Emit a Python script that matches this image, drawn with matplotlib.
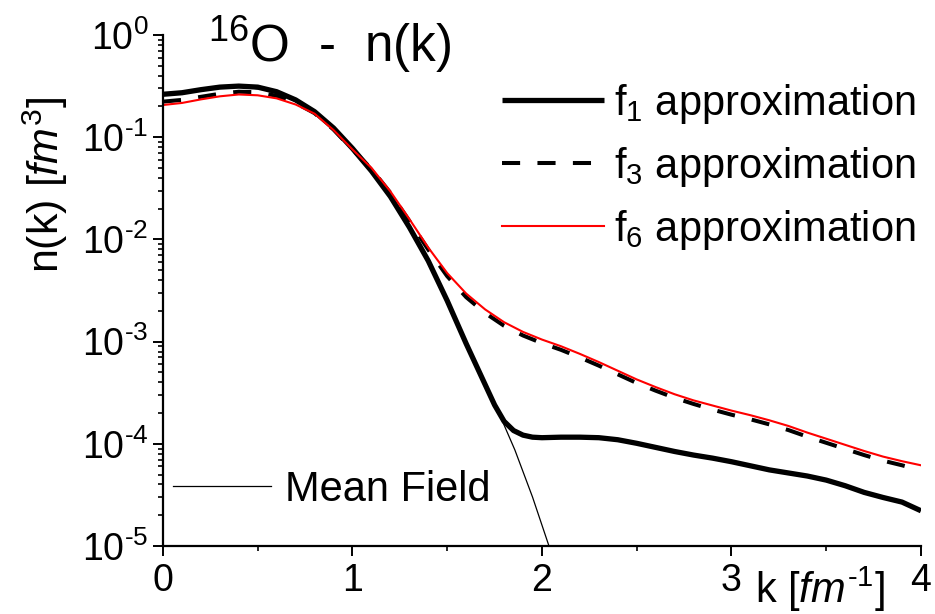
import matplotlib
matplotlib.use('Agg')
from matplotlib import pyplot as plt
from matplotlib.lines import Line2D
from matplotlib.ticker import LogLocator, MultipleLocator, FuncFormatter
import numpy as np

plt.rcParams['font.family'] = ['Liberation Sans', 'DejaVu Sans']
plt.rcParams['mathtext.fontset'] = 'custom'
plt.rcParams['mathtext.rm'] = 'Liberation Sans'
plt.rcParams['mathtext.it'] = 'Liberation Sans:italic'
plt.rcParams['axes.unicode_minus'] = False

# momentum k [fm^-1] and log10 n(k)
k_f1 = [0, 0.1, 0.2, 0.3, 0.4, 0.5, 0.6, 0.7, 0.8, 0.9, 1.0, 1.1, 1.2, 1.3, 1.4, 1.5,
        1.6, 1.7, 1.75, 1.8, 1.85, 1.9, 1.95, 2.0, 2.1, 2.2, 2.3, 2.4, 2.5, 2.6, 2.7,
        2.8, 2.9, 3.0, 3.1, 3.2, 3.3, 3.4, 3.5, 3.6, 3.7, 3.8, 3.9, 4.0]
log_f1 = [-0.58, -0.565, -0.535, -0.51, -0.50, -0.51, -0.555, -0.635, -0.75, -0.91,
          -1.11, -1.33, -1.58, -1.88, -2.21, -2.60, -3.02, -3.42, -3.62, -3.78,
          -3.87, -3.915, -3.935, -3.94, -3.935, -3.935, -3.94, -3.96, -3.995, -4.035,
          -4.075, -4.11, -4.14, -4.175, -4.215, -4.255, -4.285, -4.315, -4.355, -4.41,
          -4.475, -4.525, -4.57, -4.655]

k_f = [0, 0.1, 0.2, 0.3, 0.4, 0.5, 0.6, 0.7, 0.8, 0.9, 1.0, 1.1, 1.2, 1.3, 1.4, 1.5,
       1.6, 1.7, 1.8, 1.9, 2.0, 2.1, 2.2, 2.3, 2.4, 2.5, 2.6, 2.7, 2.8, 2.9, 3.0,
       3.1, 3.2, 3.3, 3.4, 3.5, 3.6, 3.7, 3.8, 3.9, 4.0]
log_f3 = [-0.652, -0.635, -0.605, -0.575, -0.555, -0.56, -0.595, -0.665, -0.765, -0.925,
          -1.12, -1.31, -1.545, -1.82, -2.10, -2.36, -2.565, -2.72, -2.845, -2.94,
          -3.015, -3.08, -3.155, -3.235, -3.32, -3.405, -3.48, -3.55, -3.61, -3.665,
          -3.715, -3.76, -3.81, -3.865, -3.93, -3.99, -4.05, -4.11, -4.165, -4.21,
          -4.26]
log_f6 = [-0.685, -0.665, -0.63, -0.60, -0.582, -0.59, -0.62, -0.68, -0.77, -0.93,
          -1.12, -1.30, -1.53, -1.80, -2.08, -2.33, -2.53, -2.685, -2.81, -2.905,
          -2.98, -3.045, -3.12, -3.20, -3.285, -3.37, -3.445, -3.515, -3.575, -3.625,
          -3.675, -3.72, -3.77, -3.825, -3.89, -3.95, -4.01, -4.07, -4.125, -4.17,
          -4.21]

k_mf = [0, 0.2, 0.4, 0.6, 0.8, 1.0, 1.2, 1.4, 1.6, 1.7, 1.78, 1.857, 1.95, 2.037, 2.1]
log_mf = [-0.58, -0.535, -0.50, -0.555, -0.75, -1.11, -1.58, -2.21, -3.02, -3.42,
          -3.73, -4.06, -4.52, -5.0, -5.35]

n_f1 = np.power(10.0, log_f1)
n_f3 = np.power(10.0, log_f3)
n_f6 = np.power(10.0, log_f6)
n_mf = np.power(10.0, log_mf)


def decade_label(v, pos):
    e = int(round(np.log10(v)))
    # short hyphen in the exponent, as in the original figure
    return r'$\mathregular{10^{%s}}$' % str(e).replace('-', '\u2010')


fig = plt.figure(figsize=(9.35, 6.14), dpi=100)
ax = fig.add_axes([0.1743, 0.1107, 0.8107, 0.8323])

ax.plot(k_mf, n_mf, color='black', lw=0.9)
l1, = ax.plot(k_f1, n_f1, color='black', lw=3.8, solid_capstyle='butt')
l3, = ax.plot(k_f, n_f3, color='black', lw=2.9, linestyle=(0, (4.5, 4.3)))
l6, = ax.plot(k_f, n_f6, color='red', lw=1.5)

ax.set_yscale('log')
ax.set_xlim(0, 4)
ax.set_ylim(1e-5, 1)
ax.xaxis.set_major_locator(MultipleLocator(1))
ax.xaxis.set_minor_locator(MultipleLocator(0.5))
ax.yaxis.set_major_locator(LogLocator(base=10, numticks=10))
ax.yaxis.set_minor_locator(LogLocator(base=10, subs=np.arange(2, 10), numticks=10))
ax.yaxis.set_major_formatter(FuncFormatter(decade_label))
ax.spines['top'].set_visible(False)
ax.spines['right'].set_visible(False)
for s in ['left', 'bottom']:
    ax.spines[s].set_linewidth(1.6)
ax.tick_params(which='major', direction='out', length=7.5, width=1.4, labelsize=27)
ax.tick_params(which='minor', direction='out', length=3.8, width=1.2)
ax.tick_params(axis='x', pad=5)
ax.tick_params(axis='y', pad=3)

ax.set_ylabel(r'n(k) [$fm^{3}$]', fontsize=31)
ax.yaxis.set_label_coords(-0.123, 0.706)
fig.text(755 / 935, 1 - 603 / 614, 'k [$fm^{\u20101}$]', fontsize=30, ha='left', va='baseline')
fig.text(208 / 935, 1 - 62 / 614, r'$^{16}$O  -  n(k)', fontsize=37, ha='left', va='baseline')

leg = ax.legend([l1, l3, l6],
                [r'$\mathregular{f_1}$ approximation',
                 r'$\mathregular{f_3}$ approximation',
                 r'$\mathregular{f_6}$ approximation'],
                loc='upper right', bbox_to_anchor=(916 / 935, 1 - 82 / 614),
                bbox_transform=fig.transFigure, frameon=False, fontsize=30,
                handlelength=2.45, handletextpad=0.25, labelspacing=0.45, borderpad=0,
                borderaxespad=0)
ax.add_artist(leg)

mf_handle = Line2D([], [], color='black', lw=0.9)
ax.legend([mf_handle], ['Mean Field'], loc='lower left',
          bbox_to_anchor=(173 / 935, 1 - 510 / 614), bbox_transform=fig.transFigure,
          frameon=False, fontsize=30, handlelength=2.35, handletextpad=0.33,
          borderpad=0, borderaxespad=0)

plt.savefig('out.png', dpi=100)
